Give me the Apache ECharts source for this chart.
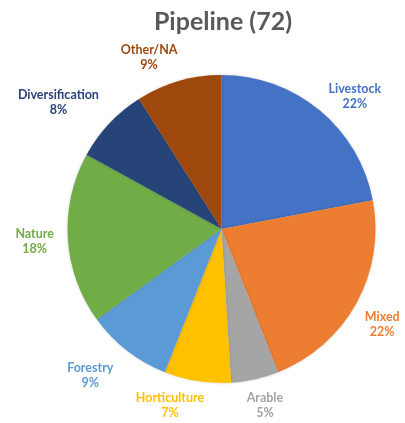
<!DOCTYPE html>
<html>
<head>
<meta charset="utf-8">
<script src="https://cdn.jsdelivr.net/npm/echarts@6/dist/echarts.min.js"></script>
<style>
  html, body { margin: 0; padding: 0; background: #fff; }
  #chart { width: 405px; height: 423px; }
</style>
</head>
<body>
<div id="chart"></div>
<script>
// Pipeline breakdown by category (percent of 72)
const categories = ['Livestock', 'Mixed', 'Arable', 'Horticulture', 'Forestry', 'Nature', 'Diversification', 'Other/NA'];
const shares = [22, 22, 5, 7, 9, 18, 8, 9];
const colors = ['#4472C4', '#ED7D31', '#A5A5A5', '#FFC000', '#5B9BD5', '#70AD47', '#264478', '#9E480E'];
const titleText = 'Pipeline (72)';

const LINE_LEN = 10;   // invisible guide length, used only to get each slice's outward direction
const LABEL_GAP = 8;   // space between the pie rim and the nearest side of a label box
// fine offsets (px) applied after the automatic label placement
const labelNudge = {
  'Livestock': [12, 14],
  'Mixed': [-1, 7],
  'Arable': [4, 0],
  'Horticulture': [-23, -3],
  'Forestry': [-16, -2],
  'Nature': [-5, 1],
  'Diversification': [-16, 12],
  'Other/NA': [-21, 5]
};

const chart = echarts.init(document.getElementById('chart'), null, { renderer: 'canvas' });

chart.setOption({
  animation: false,
  title: {
    text: titleText,
    left: 218,
    textAlign: 'center',
    top: 4,
    textStyle: { fontFamily: 'Lato', fontWeight: 'bold', fontSize: 25, color: '#595959' }
  },
  series: [{
    type: 'pie',
    center: [221.5, 229],
    radius: 154,
    startAngle: 90,
    clockwise: true,
    avoidLabelOverlap: false,
    itemStyle: { shadowBlur: 3, shadowColor: 'rgba(0,0,0,0.18)' },
    label: {
      show: true,
      position: 'outside',
      formatter: '{b}\n{d}%',
      fontFamily: 'Lato',
      fontWeight: 'bold',
      fontSize: 12.5,
      lineHeight: 15
    },
    labelLine: { show: true, length: LINE_LEN, length2: 0, lineStyle: { opacity: 0 } },
    // centre each label on the slice's mid-angle, just clear of the rim
    labelLayout: function (p) {
      const pts = p.labelLinePoints;
      if (!pts) return {};
      const ux = (pts[1][0] - pts[0][0]) / LINE_LEN;
      const uy = (pts[1][1] - pts[0][1]) / LINE_LEN;
      const hw = p.labelRect.width / 2;
      const hh = p.labelRect.height / 2;
      const d = LABEL_GAP + hw * Math.abs(ux) + hh * Math.abs(uy);
      const nudge = labelNudge[categories[p.dataIndex]] || [0, 0];
      return {
        x: pts[0][0] + ux * d + nudge[0],
        y: pts[0][1] + uy * d + nudge[1],
        align: 'center',
        verticalAlign: 'middle'
      };
    },
    data: categories.map((name, i) => ({
      name: name,
      value: shares[i],
      itemStyle: { color: colors[i] },
      label: { color: colors[i] }
    }))
  }]
});
</script>
</body>
</html>
